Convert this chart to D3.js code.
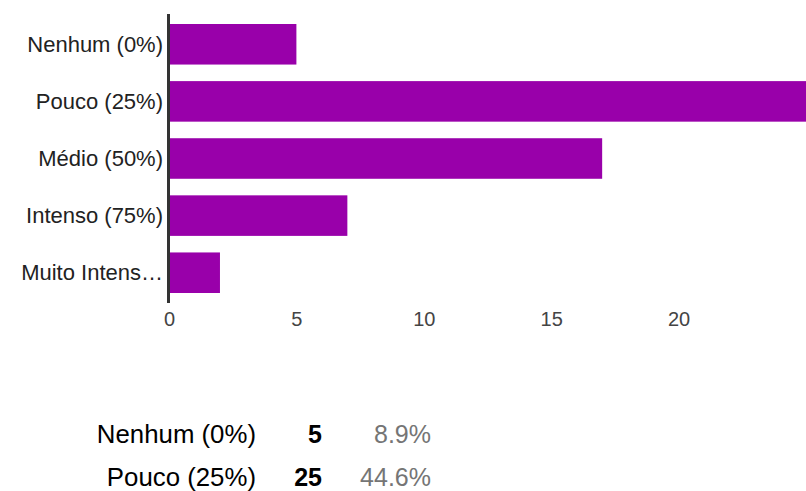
<!DOCTYPE html>
<html>
<head>
<meta charset="utf-8">
<script src="https://cdn.jsdelivr.net/npm/d3@7"></script>
<style>
  html, body { margin: 0; padding: 0; background: #fff; }
  svg { display: block; font-family: "Liberation Sans", Arial, sans-serif; }
</style>
</head>
<body>
<svg id="chart" width="806" height="491"></svg>
<script>
// Response categories and counts
const categories = ["Nenhum (0%)", "Pouco (25%)", "Médio (50%)", "Intenso (75%)", "Muito Intenso (100%)"];
const counts = [5, 25, 17, 7, 2];
const xTicks = [0, 5, 10, 15, 20];
// Summary table rows (first two responses)
const tableLabels = ["Nenhum (0%)", "Pouco (25%)"];
const tableCounts = [5, 25];
const tablePercents = ["8.9%", "44.6%"];

const FONT = "'Liberation Sans', Arial, sans-serif";
const svg = d3.select("#chart");
const barColor = "#9900aa";

const x = d3.scaleLinear().domain([0, 25]).range([169, 806]);
const y = d3.scaleBand().domain(categories).range([24, 293]).paddingInner(0.29).paddingOuter(0);

// Bars
svg.append("g").selectAll("rect")
  .data(categories)
  .join("rect")
  .attr("x", x(0))
  .attr("y", d => y(d))
  .attr("width", (d, i) => x(counts[i]) - x(0))
  .attr("height", y.bandwidth())
  .attr("fill", barColor);

// Category labels, truncated to fit the left margin
const labelG = svg.append("g").attr("font-family", FONT);
labelG.selectAll("text")
  .data(categories)
  .join("text")
  .attr("x", 163)
  .attr("y", d => y(d) + y.bandwidth() / 2)
  .attr("dy", "0.35em")
  .attr("text-anchor", "end")
  .attr("font-size", 22)
  .attr("fill", "#222")
  .text(d => d)
  .each(function(d) {
    const el = d3.select(this);
    const maxW = 145;
    if (this.getComputedTextLength() > maxW) {
      let s = d;
      while (s.length > 1) {
        s = s.slice(0, -1);
        el.text(s.trimEnd() + "…");
        if (this.getComputedTextLength() <= maxW) break;
      }
    }
  });

// Vertical baseline axis
svg.append("line")
  .attr("x1", 168.5).attr("x2", 168.5)
  .attr("y1", 14).attr("y2", 303)
  .attr("stroke", "#333").attr("stroke-width", 3);

// X axis tick labels
const xAxis = d3.axisBottom(x).tickValues(xTicks).tickSize(0).tickPadding(0);
const gx = svg.append("g").attr("transform", "translate(0,312)").call(xAxis);
gx.select(".domain").remove();
gx.selectAll("text")
  .attr("font-size", 20)
  .attr("font-family", FONT)
  .attr("fill", "#444")
  .attr("dy", "0.71em");

// Summary table
const rowY = d3.scalePoint().domain(tableLabels).range([443, 486]);
const tbl = svg.append("g").attr("font-size", 25).attr("font-family", FONT);
tbl.selectAll("text.lab")
  .data(tableLabels).join("text").attr("class", "lab")
  .attr("x", 256).attr("y", d => rowY(d))
  .attr("font-size", 25.8)
  .attr("text-anchor", "end").attr("fill", "#000")
  .text(d => d);
tbl.selectAll("text.cnt")
  .data(tableLabels).join("text").attr("class", "cnt")
  .attr("x", 322).attr("y", d => rowY(d))
  .attr("text-anchor", "end").attr("font-weight", "bold").attr("fill", "#000")
  .text((d, i) => tableCounts[i]);
tbl.selectAll("text.pct")
  .data(tableLabels).join("text").attr("class", "pct")
  .attr("x", 431).attr("y", d => rowY(d))
  .attr("text-anchor", "end").attr("fill", "#757575")
  .text((d, i) => tablePercents[i]);
</script>
</body>
</html>
